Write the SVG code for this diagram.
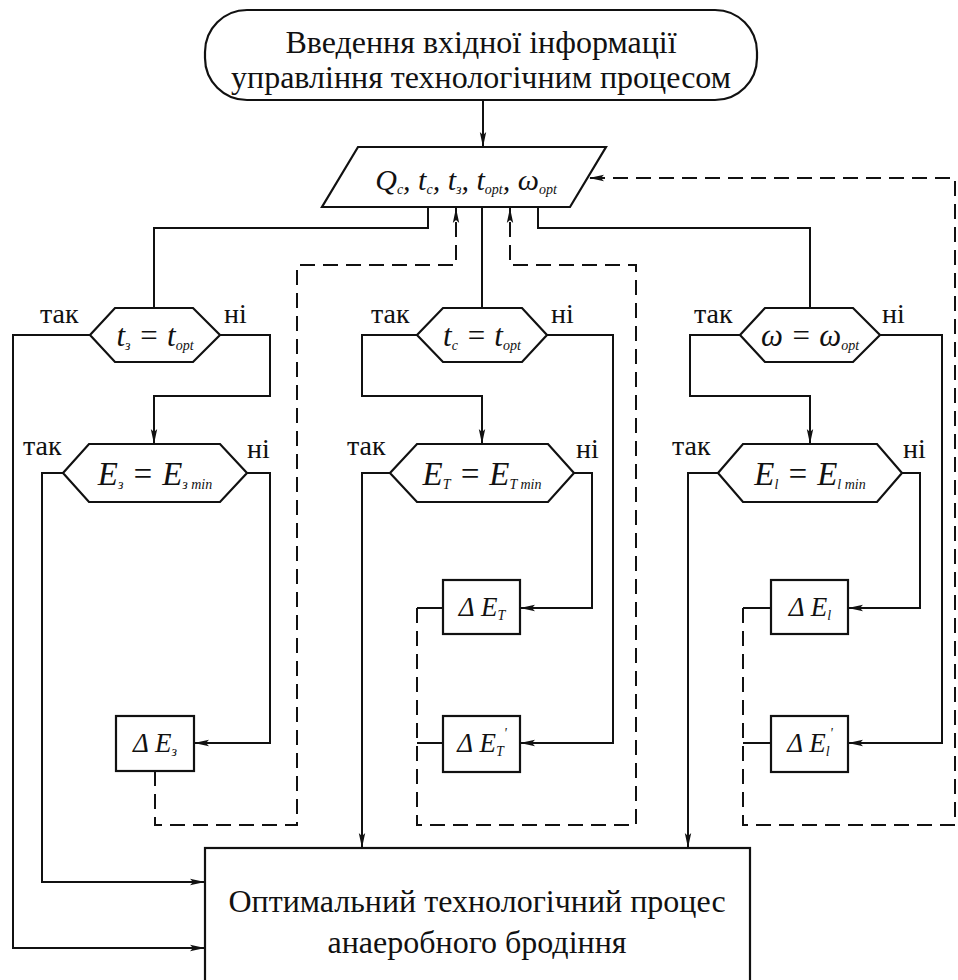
<svg xmlns="http://www.w3.org/2000/svg" width="958" height="980" viewBox="0 0 958 980">
<defs>
<marker id="ar" markerUnits="userSpaceOnUse" markerWidth="16" markerHeight="8" refX="15" refY="4" orient="auto">
<path d="M0,0.8 L15,4 L0,7.2 L3,4 z" fill="#111"/>
</marker>
<style>
.ln{fill:none;stroke:#111;stroke-width:2}
.ds{fill:none;stroke:#111;stroke-width:2;stroke-dasharray:15 8}
.bx{fill:#fff;stroke:#111;stroke-width:2.2}
.t{font-family:"Liberation Serif","Times New Roman",serif;fill:#111}
.it{font-family:"Liberation Serif","Times New Roman",serif;font-style:italic;fill:#111}
.sb{font-size:14px}
.lb{font-family:"Liberation Serif","Times New Roman",serif;font-size:28px;fill:#111}
</style>
</defs>
<rect width="958" height="980" fill="#fff"/>

<g id="connectors">
<path class="ln" d="M483,100 V147" marker-end="url(#ar)"/>
<path class="ln" d="M428,207 V228 H154 V308"/>
<path class="ln" d="M482,207 V308"/>
<path class="ln" d="M538,207 V228 H810 V308"/>
<path class="ln" d="M90,335 H13 V948 H205" marker-end="url(#ar)"/>
<path class="ln" d="M220,335 H270 V396 H154 V444" marker-end="url(#ar)"/>
<path class="ln" d="M63,473 H42 V882 H205" marker-end="url(#ar)"/>
<path class="ln" d="M247,473 H270 V743 H194" marker-end="url(#ar)"/>
<path class="ds" d="M155,771 V825 H297 V265 H456 V208" marker-end="url(#ar)"/>
<path class="ln" d="M417,335 H362 V396 H482 V444" marker-end="url(#ar)"/>
<path class="ln" d="M547,335 H613 V743 H520" marker-end="url(#ar)"/>
<path class="ln" d="M390,473 H362 V848" marker-end="url(#ar)"/>
<path class="ln" d="M574,473 H592 V608 H520" marker-end="url(#ar)"/>
<path class="ln" d="M417,608 H443 M417,743 H443"/>
<path class="ds" d="M417,608 V825 H636 V265 H510 V208" marker-end="url(#ar)"/>
<path class="ln" d="M740,335 H690 V396 H810 V444" marker-end="url(#ar)"/>
<path class="ln" d="M880,335 H942 V743 H848" marker-end="url(#ar)"/>
<path class="ln" d="M718,473 H688 V848" marker-end="url(#ar)"/>
<path class="ln" d="M902,473 H920 V608 H848" marker-end="url(#ar)"/>
<path class="ln" d="M743,608 H771 M743,743 H771"/>
<path class="ds" d="M743,608 V825 H955 V178 H589" marker-end="url(#ar)"/>
</g>

<g id="start">
<rect class="bx" x="205" y="10" width="552" height="90" rx="42" ry="42"/>
<text class="t" x="481" y="53" font-size="32" text-anchor="middle">Введення вхідної інформації</text>
<text class="t" x="481" y="88" font-size="32" text-anchor="middle">управління технологічним процесом</text>
</g>

<g id="input">
<polygon class="bx" points="358,147 606,147 570,207 322,207"/>
<text class="it" x="466" y="190" font-size="30" text-anchor="middle">Q<tspan class="sb" dy="4">c</tspan><tspan dy="-4">, t</tspan><tspan class="sb" dy="4">c</tspan><tspan dy="-4">, t</tspan><tspan class="sb" dy="4">з</tspan><tspan dy="-4">, t</tspan><tspan class="sb" dy="4">opt</tspan><tspan dy="-4">, ω</tspan><tspan class="sb" dy="4">opt</tspan></text>
</g>

<g id="cond-tz">
<polygon class="bx" points="90,335 115,308 193,308 220,335 193,362 115,362"/>
<text class="it" x="155" y="346" font-size="31" text-anchor="middle">t<tspan class="sb" dy="4">з</tspan><tspan dy="-4"> = t</tspan><tspan class="sb" dy="4">opt</tspan></text>
<text class="lb" x="40" y="323">так</text>
<text class="lb" x="224" y="323">ні</text>
</g>

<g id="cond-ez">
<polygon class="bx" points="63,473 89,444 220,444 247,473 220,502 89,502"/>
<text class="it" x="155" y="485" font-size="33" text-anchor="middle">E<tspan class="sb" dy="4">з</tspan><tspan dy="-4"> = E</tspan><tspan class="sb" dy="4">з min</tspan></text>
<text class="lb" x="23" y="455">так</text>
<text class="lb" x="247" y="458">ні</text>
</g>

<g id="cond-tc">
<polygon class="bx" points="417,335 443,308 522,308 547,335 522,362 443,362"/>
<text class="it" x="482" y="346" font-size="31" text-anchor="middle">t<tspan class="sb" dy="4">c</tspan><tspan dy="-4"> = t</tspan><tspan class="sb" dy="4">opt</tspan></text>
<text class="lb" x="371" y="323">так</text>
<text class="lb" x="551" y="323">ні</text>
</g>

<g id="cond-et">
<polygon class="bx" points="390,473 417,444 548,444 574,473 548,502 417,502"/>
<text class="it" x="482" y="485" font-size="33" text-anchor="middle">E<tspan class="sb" dy="4">T</tspan><tspan dy="-4"> = E</tspan><tspan class="sb" dy="4">T min</tspan></text>
<text class="lb" x="347" y="455">так</text>
<text class="lb" x="576" y="458">ні</text>
</g>

<g id="cond-w">
<polygon class="bx" points="740,335 765,308 853,308 880,335 853,362 765,362"/>
<text class="it" x="810" y="346" font-size="31" text-anchor="middle">ω = ω<tspan class="sb" dy="4">opt</tspan></text>
<text class="lb" x="694" y="323">так</text>
<text class="lb" x="882" y="323">ні</text>
</g>

<g id="cond-el">
<polygon class="bx" points="718,473 743,444 877,444 902,473 877,502 743,502"/>
<text class="it" x="810" y="485" font-size="33" text-anchor="middle">E<tspan class="sb" dy="4">l</tspan><tspan dy="-4"> = E</tspan><tspan class="sb" dy="4">l min</tspan></text>
<text class="lb" x="672" y="455">так</text>
<text class="lb" x="903" y="458">ні</text>
</g>

<g id="de-z">
<rect class="bx" x="116" y="716" width="78" height="55"/>
<text class="it" x="155" y="752" font-size="27" text-anchor="middle">Δ E<tspan class="sb" dy="4">з</tspan></text>
</g>

<g id="de-t">
<rect class="bx" x="443" y="580" width="77" height="54"/>
<text class="it" x="482" y="616" font-size="27" text-anchor="middle">Δ E<tspan class="sb" dy="4">T</tspan></text>
</g>

<g id="de-t2">
<rect class="bx" x="443" y="716" width="77" height="56"/>
<text class="it" x="482" y="752" font-size="27" text-anchor="middle">Δ E<tspan class="sb" dy="4">T</tspan><tspan class="sb" dy="-18">'</tspan></text>
</g>

<g id="de-l">
<rect class="bx" x="771" y="580" width="77" height="54"/>
<text class="it" x="810" y="616" font-size="27" text-anchor="middle">Δ E<tspan class="sb" dy="4">l</tspan></text>
</g>

<g id="de-l2">
<rect class="bx" x="771" y="716" width="77" height="56"/>
<text class="it" x="810" y="752" font-size="27" text-anchor="middle">Δ E<tspan class="sb" dy="4">l</tspan><tspan class="sb" dy="-18">'</tspan></text>
</g>

<g id="result">
<rect class="bx" x="205" y="848" width="545" height="150"/>
<text class="t" x="477" y="912" font-size="32" text-anchor="middle">Оптимальний технологічний процес</text>
<text class="t" x="477" y="953" font-size="32" text-anchor="middle">анаеробного бродіння</text>
</g>
</svg>
